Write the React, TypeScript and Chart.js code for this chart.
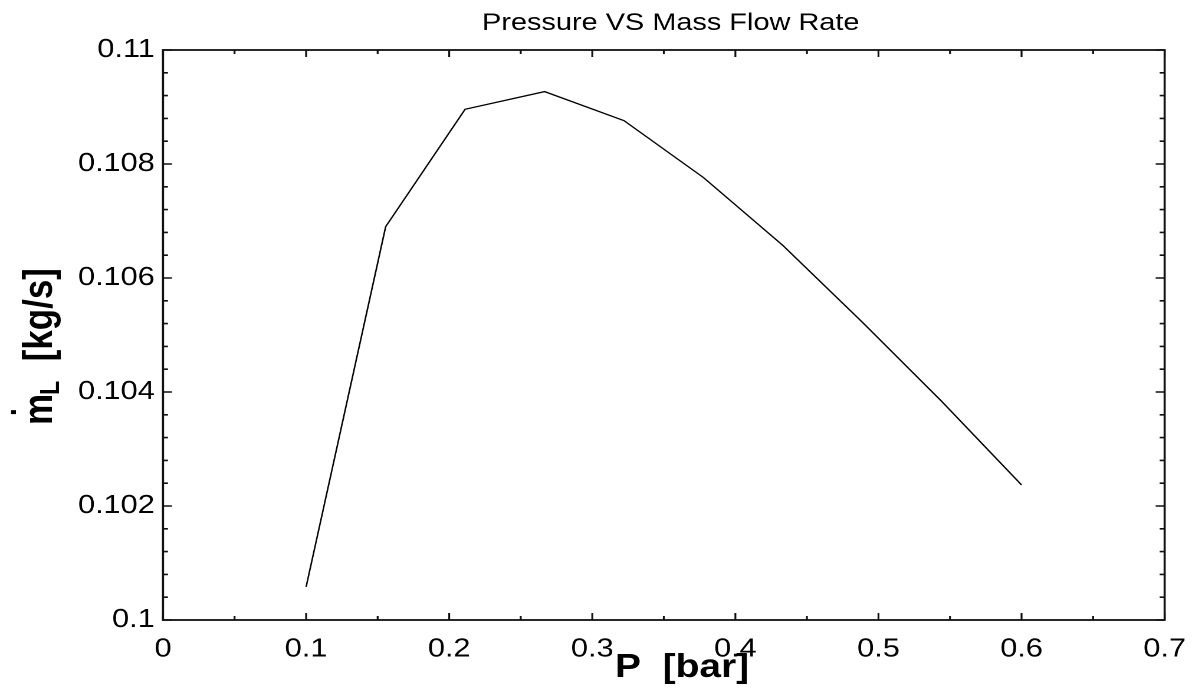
import React, { useEffect, useRef } from "react";
import { Chart, registerables } from "chart.js";

Chart.register(...registerables);

// ---- data ----
const pressureBar = [0.1, 0.1556, 0.2111, 0.2667, 0.3222, 0.3778, 0.4333, 0.4889, 0.5444, 0.6];
const massFlow = [0.10058, 0.1069, 0.10896, 0.10927, 0.10876, 0.10776, 0.10657, 0.10522, 0.10383, 0.10237];
const xTickValues = [0, 0.1, 0.2, 0.3, 0.4, 0.5, 0.6, 0.7];
const yTickValues = [0.1, 0.102, 0.104, 0.106, 0.108, 0.11];
const chartTitle = "Pressure VS Mass Flow Rate";
const xTitle = "P  [bar]";
const yTitleMain = "m";
const yTitleSub = "L";
const yTitleUnit = "  [kg/s]";

// ---- layout ----
const W = 1019;
const H = 694;
const S = 1202 / W; // horizontal stretch of the original picture
const FONT = '"Liberation Sans", Arial, Helvetica, sans-serif';

const fmt = (v: number) => String(+v.toFixed(4));

const framePlugin = {
  id: "framePlugin",
  afterDraw(chart: any) {
    const ctx = chart.ctx as CanvasRenderingContext2D;
    const { left, right, top, bottom } = chart.chartArea;
    const xs = chart.scales.x;
    const ys = chart.scales.y;
    ctx.save();
    ctx.strokeStyle = "#111";
    ctx.lineWidth = 1.6;
    ctx.beginPath();
    // x ticks (major + minor halfway)
    const xStep = xTickValues[1] - xTickValues[0];
    xTickValues.forEach((v, i) => {
      const px = xs.getPixelForValue(v);
      ctx.moveTo(px, bottom);
      ctx.lineTo(px, bottom - 7);
      ctx.moveTo(px, top);
      ctx.lineTo(px, top + 7);
      if (i < xTickValues.length - 1) {
        const pm = xs.getPixelForValue(v + xStep / 2);
        ctx.moveTo(pm, bottom);
        ctx.lineTo(pm, bottom - 4);
        ctx.moveTo(pm, top);
        ctx.lineTo(pm, top + 4);
      }
    });
    // y ticks (major + 4 minor)
    const yStep = yTickValues[1] - yTickValues[0];
    yTickValues.forEach((v, i) => {
      const py = ys.getPixelForValue(v);
      ctx.moveTo(left, py);
      ctx.lineTo(left + 7.6, py);
      ctx.moveTo(right, py);
      ctx.lineTo(right - 7.6, py);
      if (i < yTickValues.length - 1) {
        for (let k = 1; k < 5; k++) {
          const pm = ys.getPixelForValue(v + (yStep * k) / 5);
          ctx.moveTo(left, pm);
          ctx.lineTo(left + 4.2, pm);
          ctx.moveTo(right, pm);
          ctx.lineTo(right - 4.2, pm);
        }
      }
    });
    ctx.stroke();
    // frame
    ctx.lineWidth = 1.8;
    ctx.strokeRect(left, top, right - left, bottom - top);

    ctx.fillStyle = "#000";
    ctx.textAlign = "left";
    ctx.textBaseline = "alphabetic";

    // chart title
    ctx.font = `24.5px ${FONT}`;
    ctx.fillText(chartTitle, 482 / S, 30);

    // x title
    ctx.font = `bold 33px ${FONT}`;
    ctx.fillText(xTitle, 615 / S, 677);

    // y title (rotated)
    ctx.translate(44, 425);
    ctx.rotate(-Math.PI / 2);
    ctx.font = `bold 35px ${FONT}`;
    ctx.fillText(yTitleMain, 0, 0);
    const mW = ctx.measureText(yTitleMain).width;
    ctx.font = `bold 28px ${FONT}`;
    ctx.fillText(".", 9, -30.5);
    ctx.font = `bold 23px ${FONT}`;
    ctx.fillText(yTitleSub, mW - 1, 6);
    const lW = ctx.measureText(yTitleSub).width;
    ctx.font = `bold 35px ${FONT}`;
    ctx.fillText(yTitleUnit, mW - 1 + lW, 0);
    ctx.restore();
  },
};

export default function App() {
  const ref = useRef<HTMLCanvasElement | null>(null);
  useEffect(() => {
    document.body.style.margin = "0";
    document.body.style.background = "#fff";
    const canvas = ref.current!;
    const chart = new Chart(canvas, {
      type: "line",
      data: {
        datasets: [
          {
            data: pressureBar.map((x, i) => ({ x, y: massFlow[i] })),
            borderColor: "#000",
            borderWidth: 1.3,
            pointRadius: 0,
            tension: 0,
            fill: false,
          },
        ],
      },
      options: {
        animation: false,
        responsive: false,
        devicePixelRatio: 2,
        layout: { padding: { left: 0, right: W - 1173 / S, top: 50, bottom: 0 } },
        plugins: {
          legend: { display: false },
          tooltip: { enabled: false },
          title: { display: false },
        },
        scales: {
          x: {
            type: "linear",
            min: 0,
            max: 0.7,
            grid: { display: false, drawTicks: false },
            border: { display: false },
            afterBuildTicks: (s: any) => {
              s.ticks = xTickValues.map((value) => ({ value }));
            },
            afterFit: (s: any) => {
              s.height = H - 620;
            },
            ticks: {
              autoSkip: false,
              maxRotation: 0,
              padding: 13.6,
              color: "#000",
              font: { family: FONT, size: 26, lineHeight: 1.2 },
              callback: (v: any) => fmt(Number(v)),
            },
          },
          y: {
            type: "linear",
            min: 0.1,
            max: 0.11,
            grid: { display: false, drawTicks: false },
            border: { display: false },
            afterBuildTicks: (s: any) => {
              s.ticks = yTickValues.map((value) => ({ value }));
            },
            afterFit: (s: any) => {
              s.width = 163 / S;
            },
            ticks: {
              autoSkip: false,
              padding: 7,
              color: "#000",
              font: { family: FONT, size: 26, lineHeight: 1.2 },
              callback: (v: any) => fmt(Number(v)),
            },
          },
        },
      },
      plugins: [framePlugin],
    });
    return () => chart.destroy();
  }, []);

  return (
    <div
      style={{
        width: W,
        height: H,
        transform: `scaleX(${S})`,
        transformOrigin: "0 0",
        overflow: "visible",
      }}
    >
      <canvas ref={ref} width={W} height={H} style={{ display: "block", width: W, height: H }} />
    </div>
  );
}
